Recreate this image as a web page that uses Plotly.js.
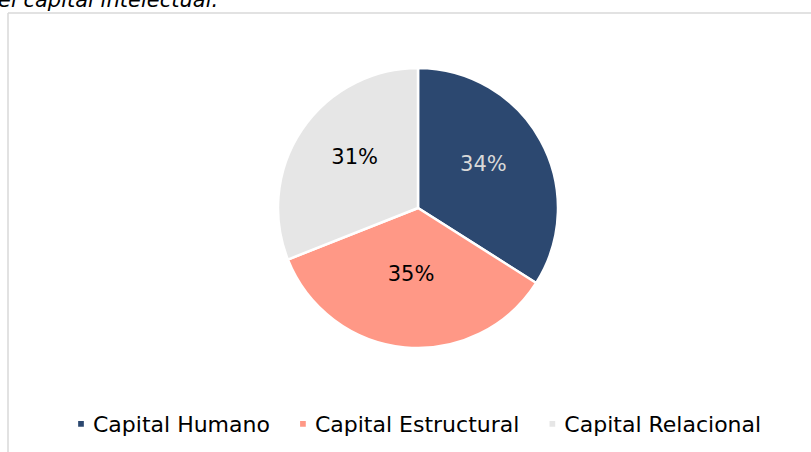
<!DOCTYPE html>
<html>
<head>
<meta charset="utf-8">
<script src="https://cdn.plot.ly/plotly-3.0.1.min.js"></script>
<style>
html,body{margin:0;padding:0;background:#fff;}
#chart{width:811px;height:452px;}
</style>
</head>
<body>
<div id="chart"></div>
<script>
const categories = ["Capital Humano", "Capital Estructural", "Capital Relacional"];
const values = [34, 35, 31];
const colors = ["#2C4870", "#FF9886", "#E6E6E6"];
const textColors = ["#D9D9D9", "#000000", "#000000"];
const captionText = "el capital intelectual.";

const W = 811, H = 452;
const px = x => x / W;
const py = y => 1 - y / H;
const FONT = "DejaVu Sans, sans-serif";

const trace = {
  type: "pie",
  labels: categories,
  values: values,
  sort: false,
  direction: "clockwise",
  rotation: 0,
  marker: { colors: colors, line: { color: "#FFFFFF", width: 2.5 } },
  textinfo: "percent",
  texttemplate: "%{percent:.0%}",
  textposition: "inside",
  insidetextorientation: "horizontal",
  textfont: { family: FONT, size: 21, color: textColors },
  hoverinfo: "label+percent",
  domain: { x: [px(278), px(558)], y: [py(348), py(68)] }
};

const layout = {
  width: W, height: H,
  margin: { l: 0, r: 0, t: 0, b: 0 },
  paper_bgcolor: "#FFFFFF",
  showlegend: true,
  legend: {
    orientation: "h",
    x: px(410), xanchor: "center",
    y: py(424), yanchor: "middle",
    font: { family: FONT, size: 22, color: "#000000" },
    itemwidth: 30,
    traceorder: "normal"
  },
  shapes: [
    { type: "line", xref: "paper", yref: "paper", x0: px(8), x1: 1.01, y0: py(13), y1: py(13), line: { color: "#D9D9D9", width: 1.5 } },
    { type: "line", xref: "paper", yref: "paper", x0: px(8), x1: px(8), y0: py(13), y1: -0.01, line: { color: "#D9D9D9", width: 1.5 } }
  ],
  annotations: [
    { text: "<i>" + captionText + "</i>", xref: "paper", yref: "paper", x: px(-4), xanchor: "left", y: py(14), yanchor: "bottom", showarrow: false, font: { family: FONT, size: 21, color: "#000000" } }
  ]
};

Plotly.newPlot("chart", [trace], layout, { displayModeBar: false, staticPlot: true }).then(gd => {
  gd.querySelectorAll(".legendpoints path").forEach(p => {
    p.setAttribute("transform", "translate(28,0) scale(0.6)");
  });
  gd.querySelectorAll("g.slicetext").forEach(t => {
    const tr = t.getAttribute("transform") || "";
    t.setAttribute("transform", "translate(0,-8) " + tr);
  });
});
</script>
</body>
</html>
